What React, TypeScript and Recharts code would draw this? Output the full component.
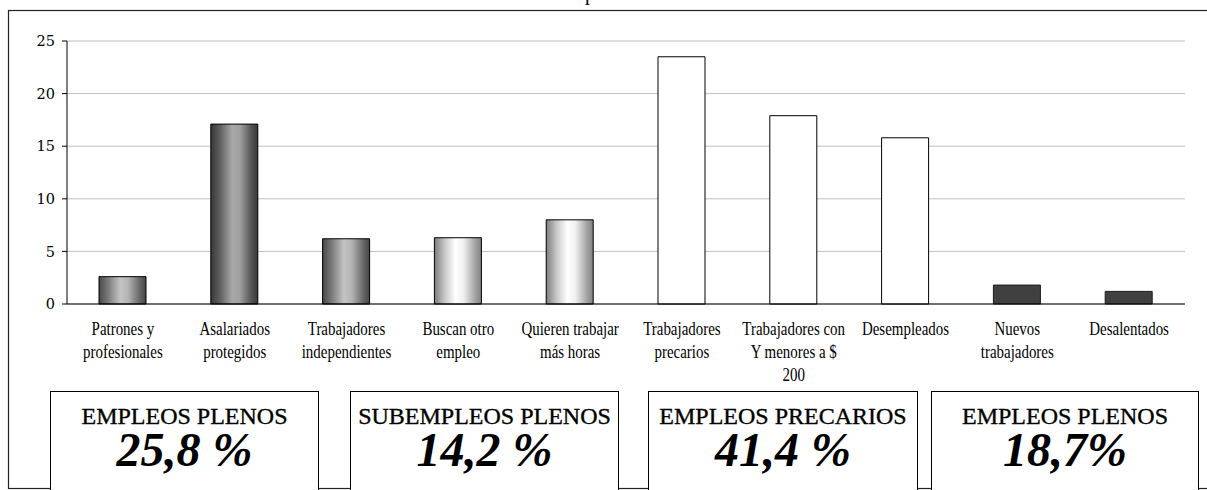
import React from 'react';
import { BarChart, Bar, XAxis, YAxis, CartesianGrid, Cell } from 'recharts';

const categories = [
  'Patrones y\nprofesionales',
  'Asalariados\nprotegidos',
  'Trabajadores\nindependientes',
  'Buscan otro\nempleo',
  'Quieren trabajar\nmás horas',
  'Trabajadores\nprecarios',
  'Trabajadores con\nY menores a $\n200',
  'Desempleados',
  'Nuevos\ntrabajadores',
  'Desalentados',
];
const values = [2.6, 17.1, 6.2, 6.3, 8.0, 23.5, 17.9, 15.8, 1.8, 1.2];
const barKinds = ['mid', 'dark', 'mid', 'light', 'light', 'white', 'white', 'white', 'solid', 'solid'];
const yTicks = [0, 5, 10, 15, 20, 25];
const boxTitles = ['EMPLEOS PLENOS', 'SUBEMPLEOS PLENOS', 'EMPLEOS PRECARIOS', 'EMPLEOS PLENOS'];
const boxValues = ['25,8 %', '14,2 %', '41,4 %', '18,7%'];

const data = categories.map((c, i) => ({ name: c, value: values[i] }));
const edgeTicks = Array.from({ length: categories.length + 1 }, (_, i) => i);

const fills: Record<string, string> = {
  mid: 'url(#gMid)',
  dark: 'url(#gDark)',
  light: 'url(#gLight)',
  white: '#ffffff',
  solid: '#404040',
};

const boxLayout = [
  { x: 50.5, w: 268 },
  { x: 350.5, w: 268 },
  { x: 648.5, w: 269 },
  { x: 931.5, w: 267 },
];

const XTick = (props: any) => {
  const { x, y, payload } = props;
  const lines = String(payload.value).split('\n');
  return (
    <g transform={`translate(${x},${y})`}>
      <text
        transform="scale(0.83,1)"
        textAnchor="middle"
        fontFamily="'Liberation Serif', serif"
        fontSize={18}
        fill="#000"
      >
        {lines.map((l, i) => (
          <tspan key={i} x={0} y={31.5 + i * 22.8}>
            {l}
          </tspan>
        ))}
      </text>
    </g>
  );
};

const EmptyTick = () => <g />;

export default function App() {
  return (
    <div style={{ position: 'absolute', left: 0, top: 0, width: 1207, height: 490, overflow: 'hidden', background: '#fff' }}>
      <BarChart
        width={1207}
        height={490}
        data={data}
        margin={{ top: 41, right: 22, bottom: 116, left: 7 }}
        barSize={47}
      >
        <defs>
          <linearGradient id="gMid" x1="0" y1="0" x2="1" y2="0">
            <stop offset="0" stopColor="#484848" />
            <stop offset="0.2" stopColor="#7c7c7c" />
            <stop offset="0.45" stopColor="#c4c4c4" />
            <stop offset="0.62" stopColor="#b4b4b4" />
            <stop offset="0.85" stopColor="#6c6c6c" />
            <stop offset="1" stopColor="#444444" />
          </linearGradient>
          <linearGradient id="gDark" x1="0" y1="0" x2="1" y2="0">
            <stop offset="0" stopColor="#383838" />
            <stop offset="0.2" stopColor="#606060" />
            <stop offset="0.45" stopColor="#a8a8a8" />
            <stop offset="0.62" stopColor="#a0a0a0" />
            <stop offset="0.85" stopColor="#585858" />
            <stop offset="1" stopColor="#383838" />
          </linearGradient>
          <linearGradient id="gLight" x1="0" y1="0" x2="1" y2="0">
            <stop offset="0" stopColor="#7c7c7c" />
            <stop offset="0.22" stopColor="#c8c8c8" />
            <stop offset="0.45" stopColor="#ffffff" />
            <stop offset="0.62" stopColor="#f0f0f0" />
            <stop offset="0.85" stopColor="#a8a8a8" />
            <stop offset="1" stopColor="#808080" />
          </linearGradient>
        </defs>
        <CartesianGrid vertical={false} stroke="#c0c0c0" strokeWidth={1} />
        <XAxis
          xAxisId="edge"
          type="number"
          domain={[0, categories.length]}
          ticks={edgeTicks}
          allowDataOverflow
          height={0}
          axisLine={false}
          tickLine={{ stroke: '#000' }}
          tickSize={5}
          tick={EmptyTick}
          interval={0}
        />
        <XAxis
          dataKey="name"
          height={70}
          interval={0}
          tickSize={0}
          tickMargin={0}
          tickLine={false}
          axisLine={{ stroke: '#000', strokeWidth: 1 }}
          tick={XTick}
        />
        <YAxis
          domain={[0, 25]}
          ticks={yTicks}
          width={60}
          tickSize={5}
          tickMargin={7}
          axisLine={{ stroke: '#000' }}
          tickLine={{ stroke: '#000' }}
          tick={{ fontFamily: "'DejaVu Serif', serif", fontSize: 14.5, fill: '#000' }}
        />
        <YAxis
          yAxisId="right"
          orientation="right"
          width={0}
          tick={false}
          tickLine={false}
          axisLine={{ stroke: '#a8a8a8' }}
        />
        <Bar dataKey="value" stroke="#000" strokeWidth={1} isAnimationActive={false}>
          {data.map((d, i) => (
            <Cell key={i} fill={fills[barKinds[i]]} stroke={barKinds[i] === 'solid' ? '#1a1a1a' : '#000'} />
          ))}
        </Bar>
      </BarChart>
      <svg
        width={1207}
        height={490}
        style={{ position: 'absolute', left: 0, top: 0, pointerEvents: 'none' }}
      >
        <text x={585} y={0} fontFamily="'Liberation Serif', serif" fontSize={20} fill="#000">p</text>
        <rect x={8.5} y={10.5} width={1210} height={478} fill="none" stroke="#222" strokeWidth={1.2} />
        {boxTitles.map((t, i) => {
          const b = boxLayout[i];
          const cx = b.x + b.w / 2;
          return (
            <g key={i}>
              <rect x={b.x} y={391.5} width={b.w} height={120} fill="#fff" stroke="#000" strokeWidth={1} />
              <text
                x={cx}
                y={424}
                textAnchor="middle"
                fontFamily="'Liberation Serif', serif"
                fontSize={24}
                fill="#000"
                stroke="#000"
                strokeWidth={0.35}
              >
                {t}
              </text>
              <text
                x={cx}
                y={466}
                textAnchor="middle"
                fontFamily="'Liberation Serif', serif"
                fontSize={48}
                fontWeight="bold"
                fontStyle="italic"
                fill="#000"
              >
                {boxValues[i]}
              </text>
            </g>
          );
        })}
      </svg>
    </div>
  );
}
